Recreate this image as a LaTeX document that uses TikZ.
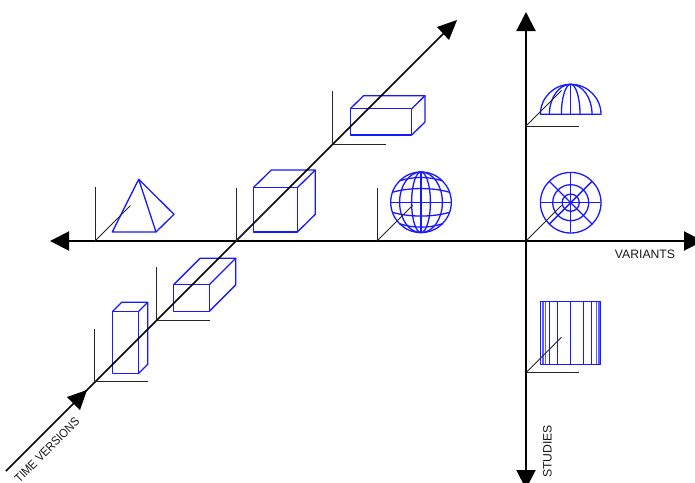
\documentclass[tikz,border=0pt]{standalone}
\usepackage{fontspec}
\setmainfont{Liberation Sans}
\usetikzlibrary{arrows.meta}
\definecolor{shapeblue}{RGB}{25,25,255}
\tikzset{
  every picture/.style={x=1pt,y=-1pt},
  axis/.style={draw=black,line width=2pt,{Triangle[length=19pt,width=19pt]}-{Triangle[length=19pt,width=19pt]}},
  diag/.style={draw=black,line width=1.6pt},
  mini/.style={draw=black!85,line width=0.9pt},
  shape3d/.style={draw=shapeblue,line width=1.3pt,line join=round},
  fineline/.style={draw=shapeblue!70,line width=.8pt},
  lab/.style={font=\fontsize{12.2pt}{14pt}\selectfont,inner sep=0pt,text=black!90}
}
\newcommand{\miniaxes}[4]{%
  \draw[mini] (#1,#2) -- (#1,#3);
  \draw[mini] (#1,#2) -- (#1+35.5,#2-35.5);
  \ifx&#4&\else\draw[mini] (#1,#2) -- (#4,#2);\fi
}
\newcommand{\boxthree}[6]{%
  \draw[shape3d] (#1,#2) -- (#3,#2) -- (#3,#4) -- (#1,#4) -- cycle;
  \draw[shape3d] (#1,#2) -- (#1+#5,#2-#6) -- (#3+#5,#2-#6) -- (#3,#2);
  \draw[shape3d] (#3+#5,#2-#6) -- (#3+#5,#4-#6) -- (#3,#4);
}
\begin{document}
\begin{tikzpicture}
\useasboundingbox (0,0) rectangle (695,482);
\fill[white] (0,0) rectangle (695,482);
\clip (0,0) rectangle (695,482);
% shapes first, so the black axes lie on top of them
% pyramid
\draw[shape3d] (138.7,179.3) -- (112.3,232) -- (156,232) -- cycle;
\draw[shape3d] (138.7,179.3) -- (174,214.3) -- (156,232);
% boxes
\boxthree{253.3}{187.7}{297.3}{232}{18}{17.7}
\boxthree{350.3}{108.7}{411.7}{135}{13.3}{13}
\boxthree{173.7}{284.7}{209.3}{311.3}{26.4}{26.4}
\boxthree{112.7}{311.3}{138.7}{373.3}{9}{9}
% globe
\begin{scope}[shift={(421,202.3)}]
  \draw[shape3d] (0,0) circle (30.3);
  \foreach \r in {9.4,21.4}{\draw[shape3d] (0,0) ellipse [x radius=\r,y radius=30.3];}
  \draw[shape3d] (0,-30.3) -- (0,30.3);
  \draw[shape3d] (-30.3,0) -- (30.3,0);
  \draw[shape3d] (-28.6,-10) .. controls (-12,-15) and (12,-15) .. (28.6,-10);
  \draw[shape3d] (-21.4,-21.4) .. controls (-8,-26) and (8,-26) .. (21.4,-21.4);
  \draw[shape3d] (-28.6,10) .. controls (-12,15) and (12,15) .. (28.6,10);
  \draw[shape3d] (-21.4,21.4) .. controls (-8,26) and (8,26) .. (21.4,21.4);
\end{scope}
% hemisphere
\begin{scope}[shift={(570.7,114.3)}]
  \draw[shape3d] (-30.3,0) arc[start angle=180,end angle=360,x radius=30.3,y radius=30] -- cycle;
  \foreach \r in {9.3,21.3}{
    \draw[shape3d] (-\r,0) arc[start angle=180,end angle=360,x radius=\r,y radius=30];
  }
  \draw[shape3d] (0,0) -- (0,-30);
\end{scope}
% polar disc
\begin{scope}[shift={(570.7,202.7)}]
  \foreach \r in {30.3,18,8.6}{\draw[shape3d] (0,0) circle (\r);}
  \foreach \a in {0,45,90,135}{\draw[shape3d] (\a:-30.3) -- (\a:30.3);}
\end{scope}
% cylinder
\draw[shape3d] (540.3,301.7) -- (600.7,301.7) -- (600.7,364.3) -- (540.3,364.3) -- cycle;
\foreach \xx in {542.3,543.6,545,596,598,599.2}{
  \draw[fineline] (\xx,301.7) -- (\xx,364.3);
}
\foreach \xx in {549.3,557.3,570.7,583.3,591.7}{
  \draw[shape3d] (\xx,301.7) -- (\xx,364.3);
}
% main axes
\coordinate (hl) at (50,241); \coordinate (hr) at (703,241);
\coordinate (vt) at (526,12); \coordinate (vb) at (526,489);
\coordinate (ds) at (6,471); \coordinate (de) at (447,30);
\draw[axis] (hl) -- (hr);
\draw[axis] (vt) -- (vb);
\draw[diag] (ds) -- (de);
\fill[black] (457,20) -- (437,27) -- (449,40) -- cycle;
\fill[black] (87,390) -- (67,397) -- (80,410) -- cycle;
% mini axes
\miniaxes{95}{241}{187}{}
\miniaxes{236}{241}{188}{}
\miniaxes{377}{241}{188}{}
\miniaxes{526}{241}{241}{}
\miniaxes{526}{126}{126}{579.3}
\miniaxes{526}{372.7}{372.7}{579.3}
\draw[mini] (332.7,144) -- (332.7,91);
\draw[mini] (332.7,144) -- (385.7,144);
\draw[mini] (156.7,320) -- (156.7,267);
\draw[mini] (156.7,320) -- (210,320);
\draw[mini] (94.7,381.7) -- (94.7,329);
\draw[mini] (94.7,381.7) -- (147.7,381.7);
% labels
\node[lab,anchor=center] (varlab) at (645,254) {VARIANTS};
\node[lab,anchor=center,rotate=90] (stulab) at (547.5,451.5) {STUDIES};
\node[lab,anchor=center,rotate=45,xscale=.9] (timelab) at (47,450) {TIME VERSIONS};
\end{tikzpicture}
\end{document}
